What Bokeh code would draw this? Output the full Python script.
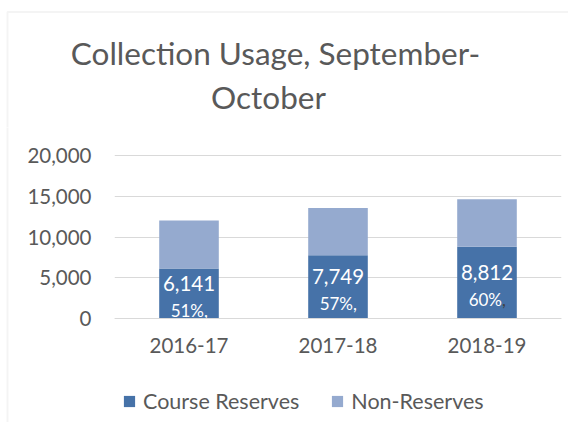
from bokeh.plotting import figure
from bokeh.layouts import column, row
from bokeh.models import (ColumnDataSource, FactorRange, Range1d, FixedTicker,
                          NumeralTickFormatter, Legend, LegendItem, BoxAnnotation)
from bokeh.core.properties import value
from bokeh.embed import file_html
from bokeh.resources import INLINE

# ---- data ----
years = ["2016-17", "2017-18", "2018-19"]
course_reserves = [6141, 7749, 8812]
non_reserves = [5890, 5800, 5830]
pct_labels = ["51%", "57%", "60%"]
comma_colors = ["white", "white", "#404040"]
y_ticks = [0, 5000, 10000, 15000, 20000]
series_names = ["Course Reserves", "Non-Reserves"]
title_lines = ["Collection Usage, September-", "October"]

# ---- style / layout ----
FONT = "Lato"
GRAY = "#595959"
BORDER = "#D9D9D9"
C1 = "#4672A8"
C2 = "#95AACF"
W, H = 568, 422
HT = 127                      # height of the title strip
SW = 10                       # width of the left border strip
title_cx = [275, 268]         # title line centres (px)
title_cy = [52.5, 96]         # title line middles (px)

def bare(width, height, xr, yr):
    f = figure(width=width, height=height, x_range=xr, y_range=yr,
               output_backend="svg", toolbar_location=None,
               x_axis_type=None, y_axis_type=None,
               min_border_left=0, min_border_right=0, min_border_top=0,
               min_border_bottom=0)
    f.outline_line_color = None
    f.background_fill_color = "white"
    f.border_fill_color = "white"
    return f

# title strip (pixel-like coordinates, y pointing down)
t = bare(W, HT, Range1d(0, W), Range1d(HT, 0))
t.add_layout(BoxAnnotation(left=7, right=W + 50, top=11.5, bottom=HT + 50,
                           fill_alpha=0, line_color=BORDER, line_width=2))
tsrc = ColumnDataSource(dict(x=title_cx, y=title_cy, text=title_lines))
t.text(x="x", y="y", text="text", source=tsrc, text_align="center",
       text_baseline="middle", text_font=value(FONT), text_font_size="31.5px",
       text_color=GRAY)

# left border strip
s = bare(SW, H - HT, Range1d(0, SW), Range1d(0, H - HT))
s.add_layout(BoxAnnotation(left=7, right=SW + 50, top=H, bottom=-50,
                           fill_alpha=0, line_color=BORDER, line_width=2))

# chart
CW, CH = W - SW, H - HT
FL, FR = 114 - SW, 561 - SW        # plot area left / right on the chart canvas
Y0_PX, YTOP_PX = 318 - HT, 155 - HT
per_px = (y_ticks[-1] - y_ticks[0]) / (Y0_PX - YTOP_PX)

p = figure(x_range=FactorRange(*years),
           y_range=Range1d(-(CH - Y0_PX) * per_px, y_ticks[-1] + YTOP_PX * per_px),
           width=CW, height=CH, output_backend="svg", toolbar_location=None,
           min_border_left=FL, min_border_right=CW - FR, min_border_top=0,
           min_border_bottom=0)
p.outline_line_color = None
p.background_fill_color = "white"
p.border_fill_color = "white"
p.xgrid.grid_line_color = None
p.ygrid.grid_line_color = BORDER
p.ygrid.grid_line_width = 1

p.yaxis.ticker = FixedTicker(ticks=y_ticks)
p.yaxis.formatter = NumeralTickFormatter(format="0,0")
for ax in (p.xaxis, p.yaxis):
    ax.major_tick_line_color = None
    ax.minor_tick_line_color = None
    ax.major_label_text_font = FONT
    ax.major_label_text_color = GRAY
    ax.major_label_text_font_size = "20.5px"
p.yaxis.axis_line_color = None
p.xaxis.axis_line_color = BORDER
p.xaxis.fixed_location = 0
p.yaxis.major_label_standoff = 17
p.xaxis.major_label_standoff = 13

src = ColumnDataSource(dict(
    year=years, course=course_reserves, non=non_reserves,
    mid=[c / 2 for c in course_reserves],
    vlabel=[f"{c:,}" for c in course_reserves],
    pct=pct_labels, comma=[","] * len(years), comma_color=comma_colors))

rs = p.vbar_stack(["course", "non"], x="year", width=0.4, color=[C1, C2],
                  line_color=None, source=src)

p.text(x="year", y="mid", text="vlabel", source=src, text_color="white",
       text_font=value(FONT), text_font_size="20.5px", text_align="center",
       text_baseline="middle", y_offset=-10)
p.text(x="year", y="mid", text="pct", source=src, text_color="white",
       text_font=value(FONT), text_font_size="17px", text_align="right",
       text_baseline="middle", x_offset=15, y_offset=17)
p.text(x="year", y="mid", text="comma", source=src, text_color="comma_color",
       text_font=value(FONT), text_font_size="17px", text_align="left",
       text_baseline="middle", x_offset=15, y_offset=17)

legend = Legend(items=[LegendItem(label=series_names[0], renderers=[rs[0]]),
                       LegendItem(label=series_names[1], renderers=[rs[1]])],
                orientation="horizontal", location="bottom_left",
                glyph_width=14, glyph_height=14, label_standoff=7, spacing=31,
                padding=0, margin=8, border_line_color=None,
                background_fill_alpha=0, label_text_font=FONT,
                label_text_font_size="21.5px", label_text_color=GRAY)
p.add_layout(legend, "center")

layout = column(t, row(s, p, spacing=0), spacing=0)
open("out.html", "w").write(file_html(layout, INLINE))
